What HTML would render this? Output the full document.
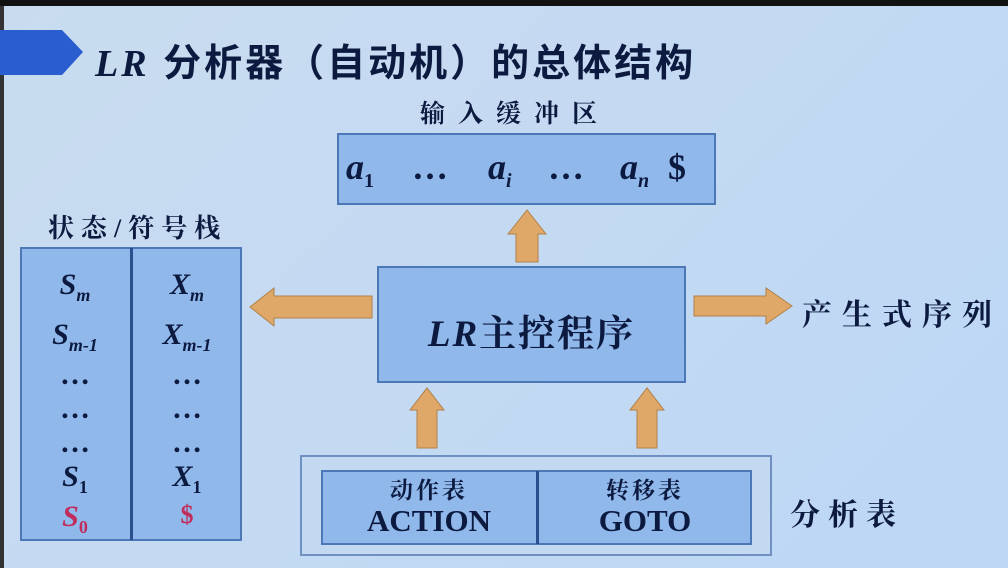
<!DOCTYPE html>
<html><head><meta charset="utf-8"><style>
body{margin:0;width:1008px;height:568px;overflow:hidden;background:linear-gradient(135deg,#c9dcef 0%,#c4daf3 50%,#bcd6f4 100%);position:relative;font-family:"Liberation Serif","Noto Serif CJK SC",serif;color:#0c1a40}
.a{position:absolute}
.box{position:absolute;background:#90b8ea;border:2px solid #4d78b8;box-sizing:border-box}
.cn{font-family:"Liberation Serif","Noto Serif CJK SC",serif;font-weight:bold}
.r{position:absolute;width:110px;text-align:center;font-size:30px;font-style:italic;font-weight:bold}
.in{position:absolute;top:146px;font-size:36px;font-style:italic;font-weight:bold;white-space:nowrap}
</style></head><body>
<div class="a" style="left:0;top:0;width:1008px;height:6px;background:#111"></div>
<div class="a" style="left:0;top:6px;width:4px;height:562px;background:#333"></div>
<svg class="a" style="left:0;top:0" width="1008" height="568">
<polygon points="0,30 62,30 83,52 62,75 0,75" fill="#2a5dd0"/>
<g fill="#e0a868" stroke="#b08048" stroke-width="1">
<polygon points="516,262 516,234 508,234 527,210 546,234 538,234 538,262"/>
<polygon points="372,296 274,296 274,288 250,307 274,326 274,318 372,318"/>
<polygon points="694,296 766,296 766,288 792,306 766,324 766,316 694,316"/>
<polygon points="417,448 417,410 410,410 427,388 444,410 437,410 437,448"/>
<polygon points="637,448 637,410 630,410 647,388 664,410 657,410 657,448"/>
</g>
</svg>
<div class="a" style="left:95px;top:32px;font-size:38px;letter-spacing:3px;font-weight:bold;font-family:'Liberation Sans','Noto Sans CJK SC',sans-serif;white-space:nowrap"><i style="font-family:'Liberation Serif'">LR</i> 分析器（自动机）的总体结构</div>
<div class="a cn" style="left:420px;top:94px;font-size:25px;letter-spacing:13px">输入缓冲区</div>
<div class="box" style="left:337px;top:133px;width:379px;height:72px"></div>
<div class="in" style="left:346px">a<sub style="font-size:20px;font-style:normal">1</sub></div>
<div class="in" style="left:412px;font-style:normal">…</div>
<div class="in" style="left:488px">a<sub style="font-size:20px">i</sub></div>
<div class="in" style="left:548px;font-style:normal">…</div>
<div class="in" style="left:620px">a<sub style="font-size:20px">n</sub></div>
<div class="in" style="left:668px;font-style:normal">$</div>
<div class="box" style="left:377px;top:266px;width:309px;height:117px"></div>
<div class="a cn" style="left:377px;top:303px;width:309px;text-align:center;font-size:37px;letter-spacing:2px"><i>LR</i>主控程序</div>
<div class="a cn" style="left:802px;top:290px;font-size:30px;letter-spacing:10px;white-space:nowrap">产生式序列</div>
<div class="a cn" style="left:48px;top:208px;font-size:26px;letter-spacing:7px;white-space:nowrap">状态/符号栈</div>
<div class="box" style="left:20px;top:247px;width:222px;height:294px"></div>
<div class="a" style="left:130px;top:248px;width:3px;height:292px;background:#2c4f90"></div>
<div class="r" style="left:20px;top:268px">S<sub style="font-size:18px">m</sub></div>
<div class="r" style="left:20px;top:318px">S<sub style="font-size:18px">m-1</sub></div>
<div class="r" style="left:20px;top:358px;font-style:normal">…</div>
<div class="r" style="left:20px;top:392px;font-style:normal">…</div>
<div class="r" style="left:20px;top:426px;font-style:normal">…</div>
<div class="r" style="left:20px;top:460px">S<sub style="font-size:18px;font-style:normal">1</sub></div>
<div class="r" style="left:20px;top:500px;color:#c02c5c">S<sub style="font-size:18px;font-style:normal">0</sub></div>
<div class="r" style="left:132px;top:268px">X<sub style="font-size:18px">m</sub></div>
<div class="r" style="left:132px;top:318px">X<sub style="font-size:18px">m-1</sub></div>
<div class="r" style="left:132px;top:358px;font-style:normal">…</div>
<div class="r" style="left:132px;top:392px;font-style:normal">…</div>
<div class="r" style="left:132px;top:426px;font-style:normal">…</div>
<div class="r" style="left:132px;top:460px">X<sub style="font-size:18px;font-style:normal">1</sub></div>
<div class="r" style="left:132px;top:500px;color:#c02c5c;font-style:normal;font-size:26px">$</div>
<div class="a" style="left:300px;top:455px;width:472px;height:101px;border:2px solid #6f90c0;box-sizing:border-box;background:#c3d9f2"></div>
<div class="box" style="left:321px;top:470px;width:431px;height:75px"></div>
<div class="a" style="left:536px;top:471px;width:3px;height:73px;background:#2c4f90"></div>
<div class="a cn" style="left:322px;top:476px;width:214px;text-align:center;font-size:23px;line-height:30px;letter-spacing:3px">动作表<br><span style="font-size:31px;letter-spacing:0">ACTION</span></div>
<div class="a cn" style="left:538px;top:476px;width:214px;text-align:center;font-size:23px;line-height:30px;letter-spacing:3px">转移表<br><span style="font-size:31px;letter-spacing:0">GOTO</span></div>
<div class="a cn" style="left:790px;top:490px;font-size:30px;letter-spacing:8px">分析表</div>
</body></html>
